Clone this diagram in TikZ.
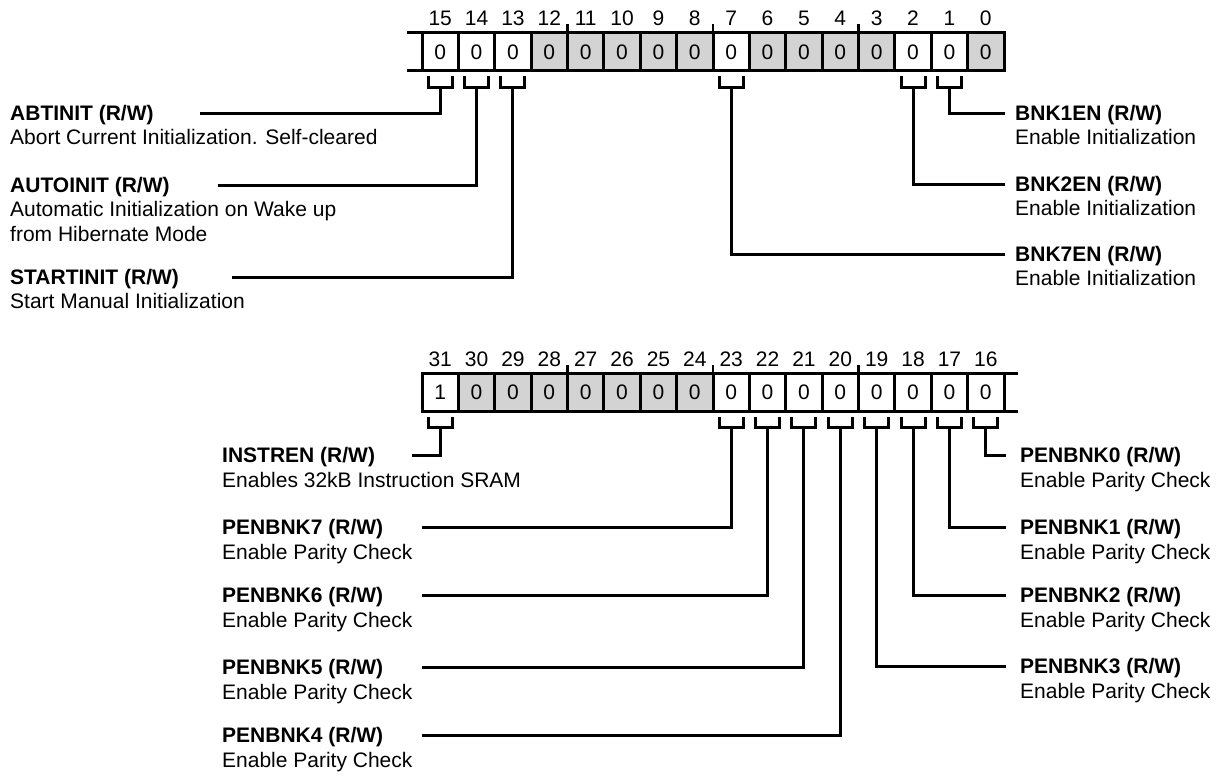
\documentclass[tikz,border=0pt]{standalone}
\usepackage{fontspec}
\setmainfont{Liberation Sans}
\definecolor{regGray}{RGB}{211,211,211}

\begin{document}
\begin{tikzpicture}[x=1pt,y=-1pt,font=\fontsize{21}{25}\selectfont,
  cell/.style={draw, line width=3pt, fill=white, minimum width=36.375pt, minimum height=38pt, inner sep=0pt, outer sep=0pt},
  gcell/.style={cell, fill=regGray},
  bitnum/.style={anchor=base, inner sep=0pt},
  rail/.style={line width=3pt},
  tick/.style={line width=2.5pt},
  conn/.style={line width=3pt},
  head/.style={anchor=base west, inner sep=0pt, font=\fontsize{21}{25}\selectfont\bfseries},
  desc/.style={anchor=base west, inner sep=0pt, align=left}]
\useasboundingbox (0,0) rectangle (1218,776);
\begin{scope}[shift={(422,33)}]
\foreach \n/\v/\s [count=\i from 0] in {15/0/cell,14/0/cell,13/0/cell,12/0/gcell,11/0/gcell,10/0/gcell,9/0/gcell,8/0/gcell,7/0/cell,6/0/gcell,5/0/gcell,4/0/gcell,3/0/gcell,2/0/cell,1/0/cell,0/0/gcell}
  {\node[\s] (t\n) at ({(\i+0.5)*36.375},19) {\v};
   \node[bitnum] (tn\n) at ([yshift=7.5pt]t\n.north) {\n};}
\end{scope}
\draw[rail] (t15.north west) -- ++(-15,0);\draw[rail] (t15.south west) -- ++(-15,0);
\foreach \n in {12,8,4} \draw[tick] (t\n.north east) -- ++(0,-9);
\foreach \n in {15,14,13,7,2,1} \draw[conn] ([xshift=-12pt,yshift=-5pt]t\n.south) -- ++(0,11) -- ++(24,0) -- ++(0,-11);

\begin{scope}[shift={(422,373.5)}]
\foreach \n/\v/\s [count=\i from 0] in {31/1/cell,30/0/gcell,29/0/gcell,28/0/gcell,27/0/gcell,26/0/gcell,25/0/gcell,24/0/gcell,23/0/cell,22/0/cell,21/0/cell,20/0/cell,19/0/cell,18/0/cell,17/0/cell,16/0/cell}
  {\node[\s] (b\n) at ({(\i+0.5)*36.375},19) {\v};
   \node[bitnum] (bn\n) at ([yshift=7.5pt]b\n.north) {\n};}
\end{scope}
\draw[rail] (b16.north east) -- ++(14,0);\draw[rail] (b16.south east) -- ++(14,0);
\foreach \n in {28,24,20} \draw[tick] (b\n.north east) -- ++(0,-9);
\foreach \n in {31,23,22,21,20,19,18,17,16} \draw[conn] ([xshift=-12pt,yshift=-5pt]b\n.south) -- ++(0,11) -- ++(24,0) -- ++(0,-11);

\node[head] (abtinit) at (10,120.5) {ABTINIT (R/W)};
\node[desc] (abtinitd) at (10,144.5) {Abort Current Initialization. Self-cleared};
\node[head] (autoinit) at (10,192.5) {AUTOINIT (R/W)};
\node[desc] (autoinitd) at (10,241.5) {Automatic Initialization on Wake up\\from Hibernate Mode};
\node[head] (startinit) at (10,284.5) {STARTINIT (R/W)};
\node[desc] (startinitd) at (10,308.5) {Start Manual Initialization};
\node[head] (bnk1en) at (1015,120.5) {BNK1EN (R/W)};
\node[desc] (bnk1end) at (1015,144.5) {Enable Initialization};
\node[head] (bnk2en) at (1015,191.5) {BNK2EN (R/W)};
\node[desc] (bnk2end) at (1015,215.5) {Enable Initialization};
\node[head] (bnk7en) at (1015,261.5) {BNK7EN (R/W)};
\node[desc] (bnk7end) at (1015,285.5) {Enable Initialization};
\coordinate (abtinit-end) at (200,113);\coordinate (autoinit-end) at (218,185);\coordinate (startinit-end) at (232,277);
\coordinate (bnk1en-end) at (1005,113);\coordinate (bnk2en-end) at (1005,184);\coordinate (bnk7en-end) at (1005,254);
\draw[conn] ([yshift=-16pt]t15.south) |- (abtinit-end);
\draw[conn] ([yshift=-16pt]t14.south) |- (autoinit-end);
\draw[conn] ([yshift=-16pt]t13.south) |- (startinit-end);
\draw[conn] ([yshift=-16pt]t1.south) |- (bnk1en-end);
\draw[conn] ([yshift=-16pt]t2.south) |- (bnk2en-end);
\draw[conn] ([yshift=-16pt]t7.south) |- (bnk7en-end);

\node[head] (instren) at (222,462.5) {INSTREN (R/W)};
\node[desc] (instrend) at (222,487.5) {Enables 32kB Instruction SRAM};
\node[head] (penbnk7) at (222,534.5) {PENBNK7 (R/W)};
\node[desc] (penbnk7d) at (222,559.5) {Enable Parity Check};
\node[head] (penbnk6) at (222,602.5) {PENBNK6 (R/W)};
\node[desc] (penbnk6d) at (222,627.5) {Enable Parity Check};
\node[head] (penbnk5) at (222,674.5) {PENBNK5 (R/W)};
\node[desc] (penbnk5d) at (222,699.5) {Enable Parity Check};
\node[head] (penbnk4) at (222,742.5) {PENBNK4 (R/W)};
\node[desc] (penbnk4d) at (222,767.5) {Enable Parity Check};
\node[head] (penbnk0) at (1020,462.5) {PENBNK0 (R/W)};
\node[desc] (penbnk0d) at (1020,487.5) {Enable Parity Check};
\node[head] (penbnk1) at (1020,534.5) {PENBNK1 (R/W)};
\node[desc] (penbnk1d) at (1020,559.5) {Enable Parity Check};
\node[head] (penbnk2) at (1020,602.5) {PENBNK2 (R/W)};
\node[desc] (penbnk2d) at (1020,627.5) {Enable Parity Check};
\node[head] (penbnk3) at (1020,673.5) {PENBNK3 (R/W)};
\node[desc] (penbnk3d) at (1020,698.5) {Enable Parity Check};
\coordinate (instren-end) at (412,455);\coordinate (penbnk7-end) at (422,527);\coordinate (penbnk6-end) at (422,595);
\coordinate (penbnk5-end) at (422,667);\coordinate (penbnk4-end) at (422,735);
\coordinate (penbnk0-end) at (1006,455);\coordinate (penbnk1-end) at (1006,527);\coordinate (penbnk2-end) at (1006,595);\coordinate (penbnk3-end) at (1006,666);
\draw[conn] ([yshift=-16pt]b31.south) |- (instren-end);
\draw[conn] ([yshift=-16pt]b23.south) |- (penbnk7-end);
\draw[conn] ([yshift=-16pt]b22.south) |- (penbnk6-end);
\draw[conn] ([yshift=-16pt]b21.south) |- (penbnk5-end);
\draw[conn] ([yshift=-16pt]b20.south) |- (penbnk4-end);
\draw[conn] ([yshift=-16pt]b16.south) |- (penbnk0-end);
\draw[conn] ([yshift=-16pt]b17.south) |- (penbnk1-end);
\draw[conn] ([yshift=-16pt]b18.south) |- (penbnk2-end);
\draw[conn] ([yshift=-16pt]b19.south) |- (penbnk3-end);
\end{tikzpicture}
\end{document}
